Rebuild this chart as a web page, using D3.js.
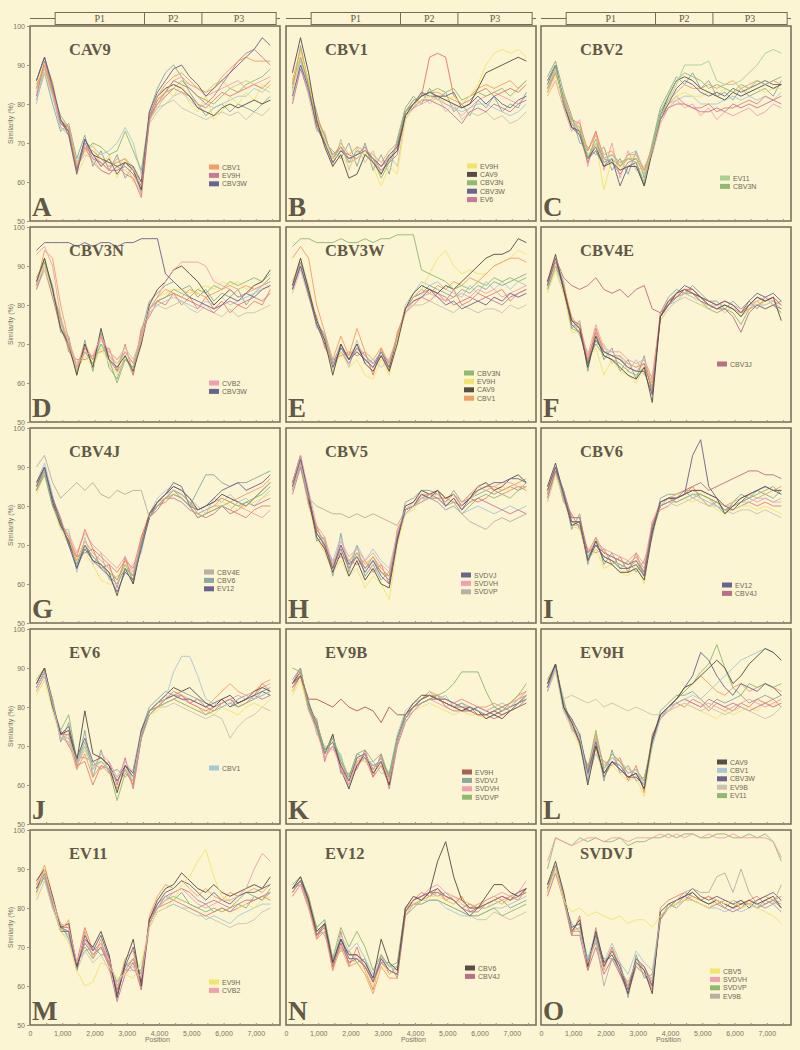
<!DOCTYPE html>
<html>
<head>
<meta charset="utf-8" />
<style>
  body { margin: 0; background: #fbf5d4; }
  svg { display: block; }
  .ax text { font-family: "Liberation Sans", Arial, sans-serif; font-size: 7px; fill: #7a7466; }
  .leg text { font-family: "Liberation Sans", Arial, sans-serif; font-size: 7px; fill: #6e6858; }
  .ttl { font-family: "Liberation Serif", "Times New Roman", serif; font-weight: bold; fill: #625848; }
</style>
</head>
<body>
<script src="https://d3js.org/d3.v7.min.js"></script>
<script>
// window positions (nt) of the similarity values
var positions = [200,450,700,950,1200,1450,1700,1950,2200,2450,2700,2950,3200,3450,3700,3950,4200,4450,4700,4950,5200,5450,5700,5950,6200,6450,6700,6950,7200,7450];
var yTicks = [50,60,70,80,90,100];
var xTicks = [0,1000,2000,3000,4000,5000,6000,7000];
var geneBounds = [780,3550,5330,7630];
var geneNames = ["P1","P2","P3"];

// colours
var orange="#f0a060", mauve="#c87898", purple="#6c6490", dark="#574d44", green="#90b870",
    lgreen="#a8d090", yellow="#f2e46c", lblue="#a8c8d8", pink="#f0a0b0", gray="#b8b0a0",
    lgray="#cbc3b2", teal="#88a8a0", salmon="#e88070", red="#e07868", brown="#a86050",
    ygreen="#c8d080", mauve2="#b87088";

// A  CAV9
var a_cbv1  = [84,90,83,76,74,64,69,68,66,64,65,66,63,60,77,82,85,87,88,86,84,83,84,87,89,91,92,91,91,91];
var a_ev9h  = [82,91,84,75,73,63,70,66,65,63,63,64,62,59,76,81,83,86,85,84,82,80,82,85,88,91,93,94,92,90];
var a_cbv3w = [86,92,85,76,72,62,71,67,64,66,62,65,64,60,78,83,86,89,90,87,85,82,84,86,88,90,92,94,97,95];
var a_bg1 = [85,89,83,77,74,64,68,70,69,67,68,73,68,63,77,80,83,84,86,84,82,81,80,82,84,83,85,86,87,89];
var a_bg2 = [80,90,82,74,73,65,70,69,67,68,70,74,70,62,76,79,80,82,83,81,79,80,79,80,81,82,82,84,83,85];
var a_bg3 = [86,92,84,76,73,63,71,67,66,65,64,65,63,58,77,82,84,85,84,82,79,78,77,79,80,79,80,81,80,81];
var a_bg4 = [84,90,83,75,74,63,69,65,63,62,64,62,61,56,76,80,82,84,83,82,80,79,81,83,82,83,84,85,84,86];
var a_bg5 = [82,88,82,74,72,64,67,66,63,62,64,63,61,57,75,78,80,81,79,78,77,76,77,78,77,78,76,78,77,79];
var a_bg6 = [83,89,84,76,74,65,68,68,66,64,65,66,64,59,76,79,82,84,86,85,84,83,85,86,84,85,86,85,84,83];
var a_bg7 = [84,90,83,75,73,64,69,67,65,63,66,64,62,58,76,80,83,86,87,85,84,82,83,84,85,86,84,85,86,87];
var a_bg8 = [81,88,80,73,75,66,72,64,68,63,67,61,64,57,78,84,88,90,87,83,80,77,79,80,78,80,79,78,80,82];
var a_bg9 = [85,91,86,74,72,62,66,70,64,67,61,66,60,62,75,81,84,82,85,80,78,82,76,78,82,80,83,81,85,84];

// B  CBV1
var b_ev9h  = [83,93,86,76,71,66,67,64,66,68,64,59,64,62,76,80,81,82,81,81,82,80,82,85,90,93,94,93,94,92];
var b_cav9  = [88,97,88,76,69,64,67,61,62,67,65,62,66,68,77,80,82,83,82,81,80,79,80,84,88,89,90,91,92,91];
var b_cbv3n = [84,92,85,76,72,66,69,65,68,67,66,61,65,70,78,81,82,83,84,83,84,81,82,83,82,83,84,82,84,86];
var b_cbv3w = [82,90,84,74,70,65,68,66,67,68,66,64,67,69,78,80,83,82,82,82,83,79,80,82,80,82,80,79,81,82];
var b_ev6   = [80,89,83,75,71,67,69,66,67,69,65,63,65,67,77,79,81,81,80,79,77,75,78,79,78,80,79,78,80,81];
var b_bg1 = [85,92,85,75,70,65,68,67,66,68,66,64,66,68,77,80,82,92,93,92,82,80,81,83,84,82,83,84,83,85];
var b_bg2 = [86,94,86,77,72,66,70,67,69,68,67,65,68,70,78,81,82,83,83,82,81,80,82,84,85,84,85,86,84,86];
var b_bg3 = [84,91,84,75,71,67,68,66,67,69,66,64,66,70,78,80,81,82,81,80,79,78,79,80,80,79,78,77,78,80];
var b_bg4 = [85,92,85,76,72,66,69,65,66,68,66,63,65,69,77,79,80,81,82,80,79,77,79,81,82,83,82,81,80,82];
var b_bg5 = [83,95,85,78,70,68,66,70,64,70,63,67,62,71,79,82,80,84,81,83,78,80,77,81,79,82,78,80,79,83];
var b_bg6 = [81,90,82,73,73,64,71,63,69,65,68,62,67,64,76,79,83,80,82,78,80,76,78,77,78,76,77,75,76,78];

// C  CBV2
var c_ev11  = [84,89,81,75,74,67,69,66,67,65,66,66,62,68,77,81,85,90,90,90,91,86,85,85,86,88,90,93,94,93];
var c_cbv3n = [86,90,80,76,73,66,71,65,66,64,66,65,60,69,78,82,86,88,87,86,84,85,84,83,85,84,86,85,86,87];
var c_bg1 = [85,90,81,74,72,66,68,64,66,59,64,65,59,68,76,80,84,86,85,83,82,83,82,84,83,84,85,86,85,85];
var c_bg2 = [83,88,82,76,74,68,72,67,68,64,67,67,63,69,77,81,83,85,84,84,85,84,85,86,84,85,86,85,86,85];
var c_bg3 = [82,87,80,76,73,67,70,58,66,63,66,67,62,68,76,80,82,83,82,82,83,82,84,83,84,83,84,83,84,84];
var c_bg4 = [84,89,81,75,72,65,70,66,65,62,65,66,62,68,76,79,80,80,79,78,78,79,78,80,79,80,79,80,81,80];
var c_bg5 = [86,90,80,74,73,66,69,64,65,63,64,64,59,68,77,82,86,87,86,84,83,82,81,83,82,83,84,85,84,85];
var c_bg6 = [84,88,82,76,75,68,73,66,67,65,66,66,63,69,77,80,82,80,79,79,80,78,79,79,80,81,80,82,81,82];
var c_bg7 = [83,88,81,75,73,66,70,65,67,64,67,68,63,69,77,80,81,82,82,80,80,80,81,82,81,82,81,82,81,83];
var c_bg8 = [87,91,83,77,70,69,67,69,63,66,62,68,61,70,79,83,87,85,88,84,86,82,83,81,84,82,83,84,82,86];
var c_bg9 = [82,86,79,73,76,64,73,63,70,61,68,63,64,67,75,79,81,79,80,77,79,76,78,77,78,79,77,78,80,79];

// D  CBV3N
var d_cvb2  = [93,95,90,77,70,64,68,67,72,68,66,68,65,71,79,82,86,89,91,91,91,90,86,85,84,82,83,84,85,86];
var d_cbv3w = [94,96,96,96,96,95,96,95,96,96,95,96,96,97,97,97,88,86,84,82,81,80,79,80,82,81,83,82,84,85];
var d_bg1 = [86,92,84,74,70,62,70,64,74,66,64,67,63,70,80,84,86,89,90,88,86,83,80,82,84,82,83,85,86,89];
var d_bg2 = [85,94,92,80,71,64,70,66,72,67,65,68,65,72,79,82,84,83,82,84,83,82,83,84,85,84,85,84,85,86];
var d_bg3 = [87,91,84,76,69,63,68,65,70,66,60,66,64,71,79,81,82,84,83,82,84,83,85,84,86,85,86,87,86,88];
var d_bg4 = [86,90,83,75,70,63,67,64,69,65,62,67,63,71,79,82,83,84,84,83,84,85,84,86,85,86,84,85,86,84];
var d_bg5 = [84,89,82,76,71,65,69,66,71,68,66,69,66,72,78,80,79,80,81,79,78,80,78,77,79,77,78,78,79,80];
var d_bg6 = [85,91,83,75,70,64,68,65,70,67,64,68,65,72,78,80,81,82,81,80,79,81,80,82,80,81,82,83,84,85];
var d_bg7 = [84,90,82,74,69,63,69,66,72,66,63,66,64,70,79,81,82,83,82,81,80,79,78,80,81,80,81,82,81,83];
var d_bg8 = [86,91,85,73,72,62,71,63,73,64,61,67,62,73,81,83,85,86,84,85,82,84,81,83,82,84,80,83,85,87];
var d_bg9 = [85,92,83,77,68,66,66,67,68,69,63,70,62,74,77,81,80,83,80,82,79,82,79,81,78,80,79,81,80,84];

// E  CBV3W
var e_cbv3n = [95,97,97,96,96,96,97,96,96,97,96,97,97,98,98,98,89,88,87,86,84,85,84,86,85,87,86,87,86,87];
var e_ev9h  = [86,92,85,76,71,63,68,64,66,62,61,66,62,71,79,82,84,88,92,94,90,88,89,88,88,90,91,92,94,93];
var e_cav9  = [85,92,84,76,71,62,70,66,70,65,63,67,63,70,79,83,85,84,83,85,84,86,88,90,92,93,93,94,97,96];
var e_cbv1  = [92,95,92,80,73,66,72,67,74,68,66,69,65,72,79,82,84,83,85,84,86,85,87,86,88,90,91,92,92,91];
var e_bg1 = [84,90,83,75,70,64,69,66,68,66,64,68,64,71,79,81,82,84,82,80,81,79,80,81,80,82,81,83,82,83];
var e_bg2 = [85,91,84,76,72,65,69,67,70,67,65,67,66,72,78,81,82,83,82,81,82,83,82,84,83,84,82,83,84,85];
var e_bg3 = [83,89,82,75,71,65,68,66,68,66,65,68,65,71,78,80,80,81,80,79,78,80,79,78,79,79,78,80,79,80];
var e_bg4 = [84,90,83,75,71,64,68,65,69,66,64,67,64,71,79,82,83,84,83,82,80,81,82,81,82,81,80,82,83,84];
var e_bg5 = [86,91,84,76,72,65,70,66,69,67,65,68,65,72,79,82,83,85,84,83,82,84,83,85,84,86,85,86,87,88];
var e_bg6 = [85,90,85,74,73,63,70,64,71,65,66,64,66,70,80,83,86,85,86,84,83,82,85,83,86,84,86,84,86,85];
var e_bg7 = [84,91,82,77,69,66,67,68,67,68,62,69,63,73,78,80,82,81,83,81,84,80,81,83,82,83,84,81,83,84];

// F  CBV4E
var f_cbv3j = [85,92,87,85,84,85,87,84,83,84,82,84,85,79,78,80,82,84,83,81,80,79,79,77,73,78,80,79,80,79];
var f_bg1 = [86,93,84,76,74,64,72,67,66,64,62,61,64,55,77,80,83,84,83,82,80,79,80,79,77,80,82,81,82,76];
var f_bg2 = [85,92,84,75,73,65,71,68,67,66,64,63,63,57,77,81,83,85,84,82,81,80,81,80,78,81,83,82,83,81];
var f_bg3 = [84,90,85,74,73,66,70,67,66,65,63,62,64,59,77,80,82,83,83,81,79,78,79,78,75,79,80,79,80,78];
var f_bg4 = [83,89,83,73,73,66,69,62,66,63,62,60,64,60,76,80,82,83,82,80,80,79,80,79,77,80,81,80,81,79];
var f_bg5 = [86,91,85,76,75,67,75,69,68,68,66,65,66,61,78,81,82,83,84,82,81,80,81,80,79,80,81,82,81,80];
var f_bg6 = [85,91,85,77,74,66,73,68,67,67,65,64,65,60,77,81,83,84,83,82,80,79,80,79,78,79,80,81,82,80];
var f_bg7 = [84,90,84,75,74,67,72,68,68,66,65,64,66,61,77,80,81,83,82,81,80,80,80,79,78,80,80,80,81,79];
var f_bg8 = [86,92,85,76,75,65,74,68,67,66,64,63,65,58,77,81,82,84,84,82,81,80,81,80,78,80,82,81,82,80];
var f_bg9 = [85,91,86,74,76,63,73,66,69,63,66,61,67,57,78,82,84,83,85,83,81,81,79,81,79,81,79,82,80,81];
var f_bg10 = [84,89,83,77,72,68,70,70,65,67,63,66,62,62,76,79,81,82,81,80,79,80,78,80,77,79,81,79,80,78];

// G  CBV4J
var g_cbv4e = [90,93,86,82,84,86,84,86,83,82,84,83,84,84,77,80,82,84,83,81,78,79,80,80,79,81,80,82,84,86];
var g_cbv6  = [84,89,80,76,70,65,70,67,65,62,60,64,62,70,77,80,82,84,82,80,84,88,88,86,85,86,86,87,88,89];
var g_ev12  = [85,90,82,76,70,64,69,66,64,62,58,63,61,69,77,81,83,86,85,80,79,80,82,84,85,86,84,85,86,88];
var g_bg1 = [84,89,81,75,73,68,73,70,68,66,64,67,63,71,78,81,83,84,83,81,78,79,80,82,81,80,79,78,77,79];
var g_bg2 = [83,88,80,74,70,66,68,65,61,60,60,65,61,70,77,80,82,83,82,80,77,78,80,81,80,79,80,81,82,83];
var g_bg3 = [86,90,81,75,71,64,70,66,65,63,57,64,60,70,78,81,83,85,84,82,79,80,81,83,82,81,80,82,84,86];
var g_bg4 = [85,89,82,76,72,66,71,68,66,64,61,66,62,71,78,81,82,84,83,81,79,80,81,82,81,82,83,84,85,87];
var g_bg5 = [84,88,80,75,71,65,70,67,65,63,61,65,61,70,77,80,82,83,82,80,77,78,79,80,81,80,81,82,83,85];
var g_bg6 = [85,90,81,76,72,67,74,69,67,65,63,66,64,72,78,80,81,83,82,80,77,78,79,80,79,78,77,79,80,80];
var g_bg7 = [86,91,83,74,74,63,72,65,68,61,62,63,65,68,78,82,84,85,84,82,80,78,82,81,83,81,82,80,82,84];
var g_bg8 = [84,88,82,77,70,67,68,69,64,65,59,67,60,72,77,79,82,82,81,79,78,77,78,80,78,79,81,80,81,82];

// H  CBV5
var h_svdvj = [85,92,83,73,70,64,70,65,67,63,66,62,60,72,79,80,83,82,84,80,82,79,82,84,85,86,86,87,87,86];
var h_svdvh = [86,93,84,75,72,65,71,67,69,66,68,65,63,73,79,80,82,83,83,81,83,80,83,85,84,85,86,86,85,85];
var h_svdvp = [84,91,82,80,79,78,78,77,78,77,78,77,76,75,79,80,81,82,81,79,80,78,76,75,74,76,77,76,77,78];
var h_bg1 = [86,93,82,72,69,63,68,62,66,61,64,60,59,71,80,81,84,83,84,82,83,80,82,85,86,84,85,87,88,86];
var h_bg2 = [84,90,80,72,68,63,66,62,64,59,62,60,56,70,78,79,82,82,83,81,82,79,81,84,85,84,85,84,86,84];
var h_bg3 = [85,91,82,74,71,65,69,64,68,64,67,63,62,72,79,80,82,83,82,80,81,78,80,82,83,82,83,82,84,85];
var h_bg4 = [84,92,82,74,71,64,70,66,68,65,67,64,62,72,79,81,83,83,84,82,83,81,83,84,85,85,84,85,86,87];
var h_bg5 = [85,90,81,74,70,66,72,65,70,66,69,66,64,73,78,80,82,82,81,79,80,78,79,80,79,78,79,80,79,80];
var h_bg6 = [83,90,81,73,70,64,69,64,67,64,66,63,61,71,79,80,83,82,82,80,82,79,81,82,81,80,79,78,79,78];
var h_bg7 = [85,92,83,71,72,62,73,63,70,62,65,61,63,71,81,82,84,84,83,81,84,81,82,83,84,83,84,85,84,86];
var h_bg8 = [86,91,80,75,69,66,67,66,65,66,63,65,60,74,78,80,81,83,82,82,81,80,82,81,82,84,83,84,85,84];

// I  CBV6
var i_ev12  = [84,90,83,76,76,66,70,67,66,64,64,65,62,74,81,82,82,83,93,97,85,82,80,79,81,83,84,85,84,83];
var i_cbv4j = [82,89,84,77,77,68,70,68,67,66,65,66,63,75,80,81,82,84,85,86,84,85,86,87,88,89,89,88,88,87];
var i_bg1 = [85,91,83,75,76,66,71,66,65,63,63,64,61,73,81,82,82,83,84,84,83,82,78,80,82,83,84,85,84,84];
var i_bg2 = [84,90,82,76,75,67,70,67,66,65,64,66,62,73,80,82,81,82,83,83,82,81,79,80,81,82,83,84,85,83];
var i_bg3 = [83,89,83,77,77,68,72,68,67,66,65,67,64,75,81,82,83,84,84,83,82,81,80,81,82,83,82,83,84,85];
var i_bg4 = [82,88,82,75,74,66,69,64,65,63,62,65,60,73,80,81,81,82,81,82,81,79,78,79,80,80,79,80,79,78];
var i_bg5 = [83,90,83,76,76,68,71,69,68,67,66,68,65,76,81,82,82,83,84,84,83,82,80,80,81,82,81,82,81,82];
var i_bg6 = [81,88,82,75,75,66,69,67,66,65,64,66,63,74,80,81,80,81,82,81,80,80,79,78,79,79,78,79,78,77];
var i_bg7 = [83,89,82,76,75,67,71,68,67,66,65,67,63,74,80,81,81,82,83,82,81,80,79,80,81,81,82,82,81,81];
var i_bg8 = [84,90,84,74,78,65,72,65,68,64,66,63,66,72,82,83,83,84,82,83,82,80,78,81,83,82,84,83,82,84];
var i_bg9 = [83,89,81,78,74,69,68,69,65,67,63,68,62,76,79,80,82,83,85,82,80,81,79,79,80,81,80,81,80,80];

// J  EV6
var j_cbv1 = [85,89,81,72,72,66,70,64,66,64,62,64,62,73,79,81,82,89,93,93,88,82,81,80,81,82,83,82,83,84];
var j_bg1 = [86,90,81,73,74,66,79,68,67,65,58,65,62,74,79,81,83,85,84,85,83,81,80,82,83,81,82,84,85,84];
var j_bg2 = [85,89,82,72,71,64,68,62,65,63,61,64,60,73,79,81,82,83,83,82,81,80,82,84,86,84,83,84,86,87];
var j_bg3 = [87,90,80,74,78,66,71,65,66,64,56,63,61,72,78,80,81,82,81,80,79,78,79,80,81,80,81,82,83,84];
var j_bg4 = [84,88,81,72,73,65,70,64,68,66,62,66,63,74,79,80,82,83,82,81,80,78,80,81,82,83,82,83,85,86];
var j_bg5 = [85,89,80,73,75,67,72,66,67,65,61,65,63,73,79,81,82,83,82,82,81,80,81,82,80,81,82,83,84,83];
var j_bg6 = [84,88,80,73,72,65,69,65,66,64,61,65,61,72,78,80,80,81,80,79,78,77,78,77,72,75,77,78,80,79];
var j_bg7 = [83,87,79,72,72,66,69,64,67,64,61,64,62,73,78,79,81,82,81,80,79,79,78,80,79,78,80,81,80,82];
var j_bg8 = [86,90,81,73,73,65,66,60,65,64,59,64,60,72,79,80,82,84,83,81,80,79,80,81,82,81,82,83,86,84];
var j_bg9 = [85,89,82,71,76,64,74,62,69,63,64,62,64,74,80,82,84,83,84,83,82,81,80,82,80,82,83,82,84,85];
var j_bg10 = [86,90,80,74,70,67,67,66,64,66,60,67,59,72,78,80,81,82,83,81,82,80,79,81,82,80,81,83,82,83];

// K  EV9B
var k_ev9h  = [86,88,82,82,81,80,82,80,79,80,79,76,80,78,78,80,82,83,82,81,80,79,79,78,78,79,78,79,80,81];
var k_svdvj = [87,90,80,75,68,72,66,62,68,67,65,66,63,72,77,80,81,82,82,81,80,81,80,79,78,79,80,79,81,82];
var k_svdvh = [85,89,79,74,67,70,64,60,66,68,64,67,61,71,77,79,81,82,81,80,81,82,81,80,79,80,79,80,82,83];
var k_svdvp = [90,89,80,76,69,72,67,62,68,69,66,68,62,72,78,80,82,83,83,84,86,89,89,89,84,80,79,81,83,86];
var k_bg1 = [86,89,80,75,68,73,64,59,65,68,63,66,60,72,78,81,83,83,82,81,80,79,80,79,77,78,77,79,81,83];
var k_bg2 = [85,88,81,76,69,71,65,61,67,68,64,67,62,71,77,80,82,83,82,82,81,80,79,80,79,78,79,80,81,82];
var k_bg3 = [84,88,80,74,68,70,66,61,66,67,65,66,61,72,78,80,82,84,83,82,81,82,81,80,80,81,80,81,82,84];
var k_bg4 = [83,87,79,75,69,71,66,62,67,66,64,65,62,71,77,79,80,81,80,79,78,79,78,78,77,78,79,80,81,82];
var k_bg5 = [86,89,81,75,67,70,65,60,65,67,62,65,60,72,78,80,81,82,82,81,80,80,80,79,78,79,80,81,83,84];
var k_bg6 = [85,88,82,73,70,69,68,59,67,66,66,63,63,73,79,81,82,84,82,83,80,81,79,80,79,80,81,80,82,83];
var k_bg7 = [86,90,79,77,66,73,63,63,64,69,62,68,59,70,76,79,81,82,83,80,79,79,80,78,78,77,78,79,80,82];

// L  EV9H
var l_cav9  = [86,91,80,76,71,60,70,63,66,64,62,63,59,72,78,80,82,85,86,88,90,92,90,86,88,91,93,95,94,92];
var l_cbv1  = [84,90,79,75,72,62,68,64,67,65,63,64,60,70,77,80,81,82,83,82,84,86,88,90,92,93,94,95,94,92];
var l_cbv3w = [85,91,80,77,73,63,71,62,66,65,62,62,60,71,78,80,82,85,88,94,92,88,85,83,86,85,84,86,85,83];
var l_ev9b  = [86,90,82,83,82,81,82,80,81,80,79,80,79,78,78,79,80,81,80,79,80,79,78,79,80,79,78,77,78,80];
var l_ev11  = [87,91,81,76,72,64,74,64,68,66,63,64,61,72,78,80,82,84,86,89,91,96,90,85,83,86,85,86,85,86];
var l_bg1 = [84,89,79,74,70,62,69,62,65,63,61,62,57,70,77,79,80,81,80,79,78,77,79,78,79,80,79,81,80,82];
var l_bg2 = [85,90,80,75,71,63,72,65,67,66,64,63,60,72,78,80,81,82,81,80,81,80,79,80,81,82,81,80,81,82];
var l_bg3 = [86,91,81,76,72,64,73,64,68,66,63,64,61,72,78,80,82,84,86,88,86,84,83,85,86,84,85,86,85,84];
var l_bg4 = [84,90,80,75,71,62,70,63,66,64,62,63,59,71,77,79,81,82,81,80,82,81,80,81,80,79,80,81,80,81];
var l_bg5 = [85,90,82,74,73,61,72,61,69,63,65,61,62,70,79,81,83,83,84,82,80,82,81,82,83,81,82,83,82,83];
var l_bg6 = [86,91,79,77,70,65,69,66,65,67,61,65,58,73,77,80,81,80,82,81,79,81,80,79,81,80,82,81,82,80];

// M  EV11
var m_ev9h = [83,90,82,74,71,64,60,61,66,65,62,63,62,66,75,79,80,82,86,88,92,95,88,83,82,80,81,80,82,83];
var m_cvb2 = [86,89,82,76,75,66,72,68,71,67,60,64,65,62,76,80,82,84,85,83,81,80,81,82,82,83,85,90,94,92];
var m_bg1 = [87,90,83,75,76,65,72,70,74,68,57,66,72,60,77,82,85,86,89,87,85,84,86,84,83,84,85,86,85,88];
var m_bg2 = [85,89,82,74,74,64,73,69,73,67,58,65,70,61,77,81,84,85,87,86,84,82,84,82,81,83,84,84,85,86];
var m_bg3 = [84,88,81,75,73,66,70,67,70,66,61,65,67,63,76,80,82,83,82,81,80,79,80,79,80,82,84,83,82,85];
var m_bg4 = [82,87,80,74,72,64,69,66,68,64,60,64,64,62,75,79,80,81,80,79,78,78,77,76,75,76,76,77,79,80];
var m_bg5 = [84,89,81,75,74,65,71,68,70,65,56,63,66,59,76,81,83,84,85,84,82,81,82,81,80,81,82,82,83,84];
var m_bg6 = [85,90,82,75,75,66,75,69,71,66,59,64,67,61,76,80,81,82,81,80,79,78,79,80,79,80,81,82,83,82];
var m_bg7 = [84,88,81,75,74,65,71,68,70,66,60,65,66,62,75,79,80,81,80,80,79,77,78,77,76,78,79,80,81,81];
var m_bg8 = [86,91,83,74,77,64,74,67,72,65,59,67,69,59,78,83,86,85,87,85,83,85,83,82,84,83,84,85,84,86];
var m_bg9 = [85,88,80,76,72,66,69,70,68,68,57,66,64,64,76,80,83,82,84,81,80,81,79,80,79,81,80,83,82,84];

// N  EV12
var n_cbv6  = [85,88,82,74,76,66,72,68,68,66,62,72,66,64,80,83,82,84,92,97,88,82,80,80,83,86,86,84,83,85];
var n_cbv4j = [84,87,81,73,75,65,71,66,67,65,61,66,64,63,79,82,83,84,84,83,82,80,79,80,81,82,83,82,83,84];
var n_bg1 = [86,88,83,75,77,67,75,70,74,70,64,68,65,66,80,81,81,82,82,81,80,79,78,78,79,80,78,79,80,81];
var n_bg2 = [83,86,80,72,74,64,70,65,66,63,58,65,62,62,78,81,82,83,84,82,83,82,81,80,82,83,82,83,84,85];
var n_bg3 = [85,87,82,73,76,66,72,67,67,65,61,67,64,63,79,82,83,84,85,83,82,80,78,80,81,82,83,82,84,85];
var n_bg4 = [84,87,81,74,75,66,70,67,66,64,60,66,63,64,79,81,82,83,83,82,81,82,80,81,80,82,81,82,83,84];
var n_bg5 = [83,86,80,73,74,65,71,66,68,65,62,67,64,63,79,82,83,85,86,84,83,81,80,81,82,83,84,83,84,87];
var n_bg6 = [84,87,81,74,75,66,72,68,68,66,62,67,65,64,79,81,81,82,82,81,80,79,78,77,77,79,78,77,78,79];
var n_bg7 = [85,88,82,75,77,67,73,69,71,67,63,68,65,65,79,81,82,82,82,80,79,78,78,78,79,80,80,81,82,83];
var n_bg8 = [84,87,83,72,76,64,74,65,70,64,59,68,63,65,80,82,84,83,85,82,81,83,79,79,81,82,81,83,82,85];
var n_bg9 = [85,86,80,75,73,67,69,69,66,67,61,66,66,62,78,80,82,84,83,84,82,80,81,80,80,81,82,80,81,82];

// O  SVDVJ
var o_cbv5  = [84,90,82,79,80,78,79,78,77,78,76,77,77,75,78,80,81,82,82,81,80,82,81,82,80,81,80,79,78,76];
var o_svdvh = [92,98,97,96,97,98,98,97,98,98,97,98,98,98,99,98,99,98,99,98,99,98,98,99,98,98,98,98,97,93];
var o_svdvp = [90,98,97,96,98,97,98,97,97,98,96,97,97,98,98,99,98,99,99,98,98,99,99,98,98,99,98,99,97,92];
var o_ev9b  = [85,91,83,74,74,66,72,60,67,64,61,66,63,62,78,80,82,84,85,84,84,88,89,84,90,84,81,80,81,86];
var o_bg1 = [86,92,84,74,77,65,74,66,68,64,58,66,64,58,79,81,82,83,84,82,81,82,81,80,81,82,81,82,83,80];
var o_bg2 = [85,91,83,75,76,66,73,65,69,65,59,67,65,60,78,80,82,83,85,83,82,83,82,81,82,80,82,83,84,82];
var o_bg3 = [84,90,83,74,75,65,72,64,70,65,60,66,65,61,78,80,81,82,83,82,83,82,81,80,82,81,82,83,82,81];
var o_bg4 = [83,89,82,73,73,64,70,63,67,63,58,65,63,60,77,80,81,83,82,81,80,81,80,79,80,81,80,81,82,80];
var o_bg5 = [85,90,83,75,76,67,74,66,71,66,63,69,66,64,78,80,81,82,82,81,80,80,79,80,79,80,81,80,81,82];
var o_bg6 = [84,91,84,73,78,64,75,65,70,63,60,67,64,59,80,82,83,84,83,82,83,81,82,81,80,82,83,81,82,83];
var o_bg7 = [86,90,82,76,74,67,71,67,67,66,57,68,62,63,77,81,80,82,84,82,81,82,80,82,81,81,80,82,81,79];

var panels = [
  {title:"CAV9", letter:"A", col:0, row:0,
   lines:[[a_bg8,teal],[a_bg9,yellow],[a_bg5,lgray],[a_bg2,lblue],[a_bg1,green],[a_bg6,ygreen],[a_bg4,salmon],[a_bg7,pink],[a_bg3,dark],[a_ev9h,mauve],[a_cbv1,orange],[a_cbv3w,purple]],
   legend:[["CBV1",orange],["EV9H",mauve],["CBV3W",purple]], lx:179, ly:141},
  {title:"CBV1", letter:"B", col:1, row:0,
   lines:[[b_bg5,teal],[b_bg6,lgray],[b_bg3,lblue],[b_bg4,pink],[b_bg2,orange],[b_bg1,red],[b_ev6,mauve],[b_cbv3w,purple],[b_cbv3n,green],[b_ev9h,yellow],[b_cav9,dark]],
   legend:[["EV9H",yellow],["CAV9",dark],["CBV3N",green],["CBV3W",purple],["EV6",mauve]], lx:181, ly:140},
  {title:"CBV2", letter:"C", col:2, row:0,
   lines:[[c_bg8,teal],[c_bg9,pink],[c_bg7,lblue],[c_bg6,salmon],[c_bg4,mauve],[c_bg3,yellow],[c_bg2,orange],[c_bg1,purple],[c_bg5,dark],[c_cbv3n,green],[c_ev11,lgreen]],
   legend:[["EV11",lgreen],["CBV3N",green]], lx:179, ly:152},
  {title:"CBV3N", letter:"D", col:0, row:1,
   lines:[[d_bg8,teal],[d_bg9,salmon],[d_bg5,lgray],[d_bg6,lblue],[d_bg7,mauve],[d_bg4,yellow],[d_bg3,green],[d_bg2,orange],[d_bg1,dark],[d_cvb2,pink],[d_cbv3w,purple]],
   legend:[["CVB2",pink],["CBV3W",purple]], lx:179, ly:156},
  {title:"CBV3W", letter:"E", col:1, row:1,
   lines:[[e_bg6,lblue],[e_bg7,salmon],[e_bg3,lgray],[e_bg2,pink],[e_bg4,mauve],[e_bg1,purple],[e_bg5,teal],[e_ev9h,yellow],[e_cbv1,orange],[e_cav9,dark],[e_cbv3n,green]],
   legend:[["CBV3N",green],["EV9H",yellow],["CAV9",dark],["CBV1",orange]], lx:178, ly:146},
  {title:"CBV4E", letter:"F", col:2, row:1,
   lines:[[f_bg9,teal],[f_bg10,lgray],[f_bg4,yellow],[f_bg7,lblue],[f_bg3,green],[f_bg5,pink],[f_bg6,orange],[f_bg8,red],[f_bg2,purple],[f_bg1,dark],[f_cbv3j,mauve2]],
   legend:[["CBV3J",mauve2]], lx:176, ly:137},
  {title:"CBV4J", letter:"G", col:0, row:2,
   lines:[[g_bg7,lblue],[g_bg8,mauve],[g_bg2,yellow],[g_bg1,pink],[g_bg6,salmon],[g_bg5,green],[g_bg4,orange],[g_bg3,dark],[g_cbv6,teal],[g_ev12,purple],[g_cbv4e,gray]],
   legend:[["CBV4E",gray],["CBV6",teal],["EV12",purple]], lx:174, ly:144},
  {title:"CBV5", letter:"H", col:1, row:2,
   lines:[[h_bg7,teal],[h_bg8,salmon],[h_bg2,yellow],[h_bg5,lblue],[h_bg3,green],[h_bg6,mauve],[h_bg4,orange],[h_bg1,dark],[h_svdvh,pink],[h_svdvj,purple],[h_svdvp,gray]],
   legend:[["SVDVJ",purple],["SVDVH",pink],["SVDVP",gray]], lx:175, ly:147},
  {title:"CBV6", letter:"I", col:2, row:2,
   lines:[[i_bg8,teal],[i_bg9,salmon],[i_bg6,lgray],[i_bg4,yellow],[i_bg7,lblue],[i_bg5,pink],[i_bg3,orange],[i_bg2,green],[i_bg1,dark],[i_cbv4j,mauve2],[i_ev12,purple]],
   legend:[["EV12",purple],["CBV4J",mauve2]], lx:181, ly:157},
  {title:"EV6", letter:"J", col:0, row:3,
   lines:[[j_bg9,teal],[j_bg10,mauve],[j_bg6,lgray],[j_bg7,yellow],[j_bg4,pink],[j_bg3,green],[j_bg2,orange],[j_bg8,salmon],[j_bg5,purple],[j_bg1,dark],[j_cbv1,lblue]],
   legend:[["CBV1",lblue]], lx:179, ly:139},
  {title:"EV9B", letter:"K", col:1, row:3,
   lines:[[k_bg6,lblue],[k_bg7,mauve],[k_bg4,yellow],[k_bg3,orange],[k_bg5,salmon],[k_bg2,purple],[k_bg1,dark],[k_svdvh,pink],[k_svdvj,teal],[k_svdvp,green],[k_ev9h,brown]],
   legend:[["EV9H",brown],["SVDVJ",teal],["SVDVH",pink],["SVDVP",green]], lx:176, ly:143},
  {title:"EV9H", letter:"L", col:2, row:3,
   lines:[[l_bg5,teal],[l_bg6,salmon],[l_bg1,yellow],[l_bg2,pink],[l_bg4,mauve],[l_bg3,orange],[l_ev9b,lgray],[l_ev11,green],[l_cbv3w,purple],[l_cbv1,lblue],[l_cav9,dark]],
   legend:[["CAV9",dark],["CBV1",lblue],["CBV3W",purple],["EV9B",lgray],["EV11",green]], lx:176, ly:133},
  {title:"EV11", letter:"M", col:0, row:4,
   lines:[[m_bg8,orange],[m_bg9,teal],[m_bg4,lgray],[m_bg7,lblue],[m_bg3,green],[m_bg6,salmon],[m_bg5,mauve],[m_bg2,purple],[m_bg1,dark],[m_ev9h,yellow],[m_cvb2,pink]],
   legend:[["EV9H",yellow],["CVB2",pink]], lx:179, ly:152},
  {title:"EV12", letter:"N", col:1, row:4,
   lines:[[n_bg8,salmon],[n_bg9,teal],[n_bg6,lgray],[n_bg7,lblue],[n_bg1,green],[n_bg4,yellow],[n_bg2,orange],[n_bg5,pink],[n_bg3,purple],[n_cbv4j,mauve2],[n_cbv6,dark]],
   legend:[["CBV6",dark],["CBV4J",mauve2]], lx:179, ly:138},
  {title:"SVDVJ", letter:"O", col:2, row:4,
   lines:[[o_bg6,salmon],[o_bg7,teal],[o_bg5,lblue],[o_bg4,mauve],[o_bg3,orange],[o_bg2,purple],[o_bg1,dark],[o_ev9b,gray],[o_cbv5,yellow],[o_svdvp,green],[o_svdvh,pink]],
   legend:[["CBV5",yellow],["SVDVH",pink],["SVDVP",green],["EV9B",gray]], lx:169, ly:141}
];

var W = 800, H = 1050;
var colLeft = [30, 286, 541], rowTop = [26, 227, 428, 629, 830];
var pw = 250, ph = 195;
var frameColor = "#746a58";

var svg = d3.select("body").append("svg").attr("width", W).attr("height", H);
svg.append("rect").attr("width", W).attr("height", H).attr("fill", "#fbf5d4");

// genome map above each column
colLeft.forEach(function(left) {
  var gx = d3.scaleLinear().domain([0, 7750]).range([left, left + pw]);
  var g = svg.append("g").attr("stroke", frameColor).attr("fill", "none");
  g.append("line").attr("x1", gx(0)).attr("x2", gx(geneBounds[0])).attr("y1", 18.5).attr("y2", 18.5);
  g.append("line").attr("x1", gx(geneBounds[3])).attr("x2", gx(7750)).attr("y1", 18.5).attr("y2", 18.5);
  g.append("rect").attr("x", gx(geneBounds[0])).attr("y", 12.5).attr("width", gx(geneBounds[3]) - gx(geneBounds[0])).attr("height", 12);
  [1, 2].forEach(function(i) {
    g.append("line").attr("x1", gx(geneBounds[i])).attr("x2", gx(geneBounds[i])).attr("y1", 12.5).attr("y2", 24.5);
  });
  geneNames.forEach(function(n, i) {
    svg.append("text").attr("x", (gx(geneBounds[i]) + gx(geneBounds[i + 1])) / 2).attr("y", 22)
      .attr("text-anchor", "middle").attr("font-family", "Liberation Serif, serif").attr("font-size", 10)
      .attr("fill", "#5e5646").text(n);
  });
});

var line = d3.line().curve(d3.curveLinear);

panels.forEach(function(p) {
  var left = colLeft[p.col], top = rowTop[p.row];
  var x = d3.scaleLinear().domain([0, 7750]).range([left, left + pw]);
  var y = d3.scaleLinear().domain([50, 100]).range([top + ph, top]);
  var g = svg.append("g");

  // similarity curves
  p.lines.forEach(function(l) {
    var pts = l[0].map(function(v, i) { return [x(positions[i]), y(v)]; });
    g.append("path").attr("d", line(pts)).attr("fill", "none")
      .attr("stroke", l[1]).attr("stroke-width", 1).attr("stroke-linejoin", "round").attr("opacity", 0.92);
  });

  // frame
  g.append("rect").attr("x", left).attr("y", top).attr("width", pw).attr("height", ph)
    .attr("fill", "none").attr("stroke", frameColor).attr("stroke-width", 1.5);

  // small ticks on the bottom edge
  var bt = d3.axisBottom(x).tickValues(d3.range(500, 7750, 500)).tickSize(-2).tickFormat("");
  g.append("g").attr("transform", "translate(0," + (top + ph) + ")").call(bt)
    .call(function(s) { s.select(".domain").remove(); s.selectAll("line").attr("stroke", "#9a9280"); });

  // y axis on the first column
  if (p.col === 0) {
    var ya = d3.axisLeft(y).tickValues(yTicks).tickSize(2).tickPadding(2);
    g.append("g").attr("class", "ax").attr("transform", "translate(" + (left - 1) + ",0)").call(ya)
      .call(function(s) { s.select(".domain").remove(); s.selectAll("line").attr("stroke", "#9a9280"); s.selectAll("text").attr("font-size", 7).attr("fill", "#7a7466"); });
    g.append("text").attr("class", "ax").attr("transform", "translate(13," + (top + ph / 2) + ") rotate(-90)")
      .attr("text-anchor", "middle").attr("font-family", "Liberation Sans, Arial, sans-serif")
      .attr("font-size", 7).attr("fill", "#7a7466").text("Similarity (%)");
  }

  // x axis on the last row
  if (p.row === 4) {
    var xa = d3.axisBottom(x).tickValues(xTicks).tickSize(0).tickPadding(6).tickFormat(d3.format(","));
    g.append("g").attr("class", "ax").attr("transform", "translate(0," + (top + ph) + ")").call(xa)
      .call(function(s) { s.select(".domain").remove(); s.selectAll("text").attr("font-size", 7).attr("fill", "#7a7466"); });
    g.append("text").attr("x", x(3950)).attr("y", top + ph + 17).attr("text-anchor", "middle")
      .attr("font-family", "Liberation Sans, Arial, sans-serif").attr("font-size", 7).attr("fill", "#7a7466").text("Position");
  }

  // titles
  g.append("text").attr("class", "ttl").attr("x", left + 39).attr("y", top + 29).attr("font-size", 16.5).text(p.title);
  g.append("text").attr("class", "ttl").attr("x", left + 2).attr("y", top + ph - 5).attr("font-size", 27).text(p.letter);

  // legend
  var lg = g.append("g").attr("class", "leg").attr("transform", "translate(" + (left + p.lx) + "," + (top + p.ly) + ")");
  p.legend.forEach(function(e, i) {
    lg.append("rect").attr("x", 0).attr("y", i * 8.4 - 2.5).attr("width", 10).attr("height", 5).attr("fill", e[1]);
    lg.append("text").attr("x", 13).attr("y", i * 8.4 + 2.5).text(e[0]);
  });
});
</script>
</body>
</html>
